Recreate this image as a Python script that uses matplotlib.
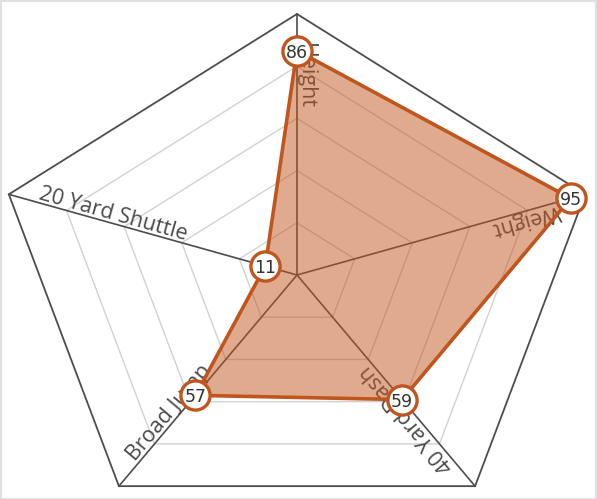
import numpy as np
import matplotlib.pyplot as plt
from matplotlib.patches import Polygon, Rectangle

categories = ["Height", "Weight", "40 Yard Dash", "Broad Jump", "20 Yard Shuttle"]
values = [86, 95, 59, 57, 11]
max_value = 100
grid_levels = [20, 40, 60, 80]

plt.rcParams['font.family'] = ['Open Sans', 'DejaVu Sans']

W, H = 597, 499
fig = plt.figure(figsize=(W / 100, H / 100), dpi=100)
ax = fig.add_axes([0, 0, 1, 1])
cx, cy = 297, 224          # centre in pixels (from bottom-left)
sx, sy = 303, 261          # pixels per unit radius
ax.set_xlim(-cx / sx, (W - cx) / sx)
ax.set_ylim(-cy / sy, (H - cy) / sy)
ax.axis('off')

n = len(categories)
angles = np.pi / 2 - 2 * np.pi * np.arange(n) / n
ux, uy = np.cos(angles), np.sin(angles)

# grid
for lv in grid_levels:
    r = lv / max_value
    ax.add_patch(Polygon(np.c_[ux * r, uy * r], closed=True, fill=False,
                         edgecolor='#d2d2d2', lw=1.0, zorder=1))
ax.add_patch(Polygon(np.c_[ux, uy], closed=True, fill=False,
                     edgecolor='#4d4d4d', lw=1.3, zorder=2))
for i in range(n):
    ax.plot([0, ux[i]], [0, uy[i]], color='#4d4d4d', lw=1.2, zorder=2)

# axis labels
for i, cat in enumerate(categories):
    vx, vy = sx * ux[i], sy * uy[i]
    L = np.hypot(vx, vy)
    dx, dy = -vx / L, -vy / L
    rot = np.degrees(np.arctan2(dy, dx))
    px, py = vx + 29 * dx, vy + 29 * dy
    upx, upy = -dy, dx
    px += 3 * upx
    py += 3 * upy
    ax.text(px / sx, py / sy, cat, rotation=rot, rotation_mode='anchor',
            ha='left', va='baseline', fontsize=15.5, color='#4a4a4a', zorder=3)

# data polygon
r = np.array(values) / max_value
xs, ys = ux * r, uy * r
ax.add_patch(Polygon(np.c_[xs, ys], closed=True, facecolor='#c0561e', alpha=0.5,
                     edgecolor='none', zorder=4))
ax.add_patch(Polygon(np.c_[xs, ys], closed=True, fill=False,
                     edgecolor='#c0561e', lw=2.6, zorder=5))
ax.plot(xs, ys, 'o', ms=21, mfc='white', mec='#c0561e', mew=2.4, zorder=6, ls='none')
for x, y, v in zip(xs, ys, values):
    ax.text(x, y, str(v), ha='center', va='center_baseline', fontsize=12.5,
            color='#333333', zorder=7, family='DejaVu Sans')

fig.add_artist(Rectangle((0.5 / W, 0.5 / H), 1 - 1.5 / W, 1 - 1.5 / H,
                         transform=fig.transFigure, fill=False,
                         edgecolor='#e0e0e0', lw=1.5))

fig.savefig('out.png', dpi=100)
